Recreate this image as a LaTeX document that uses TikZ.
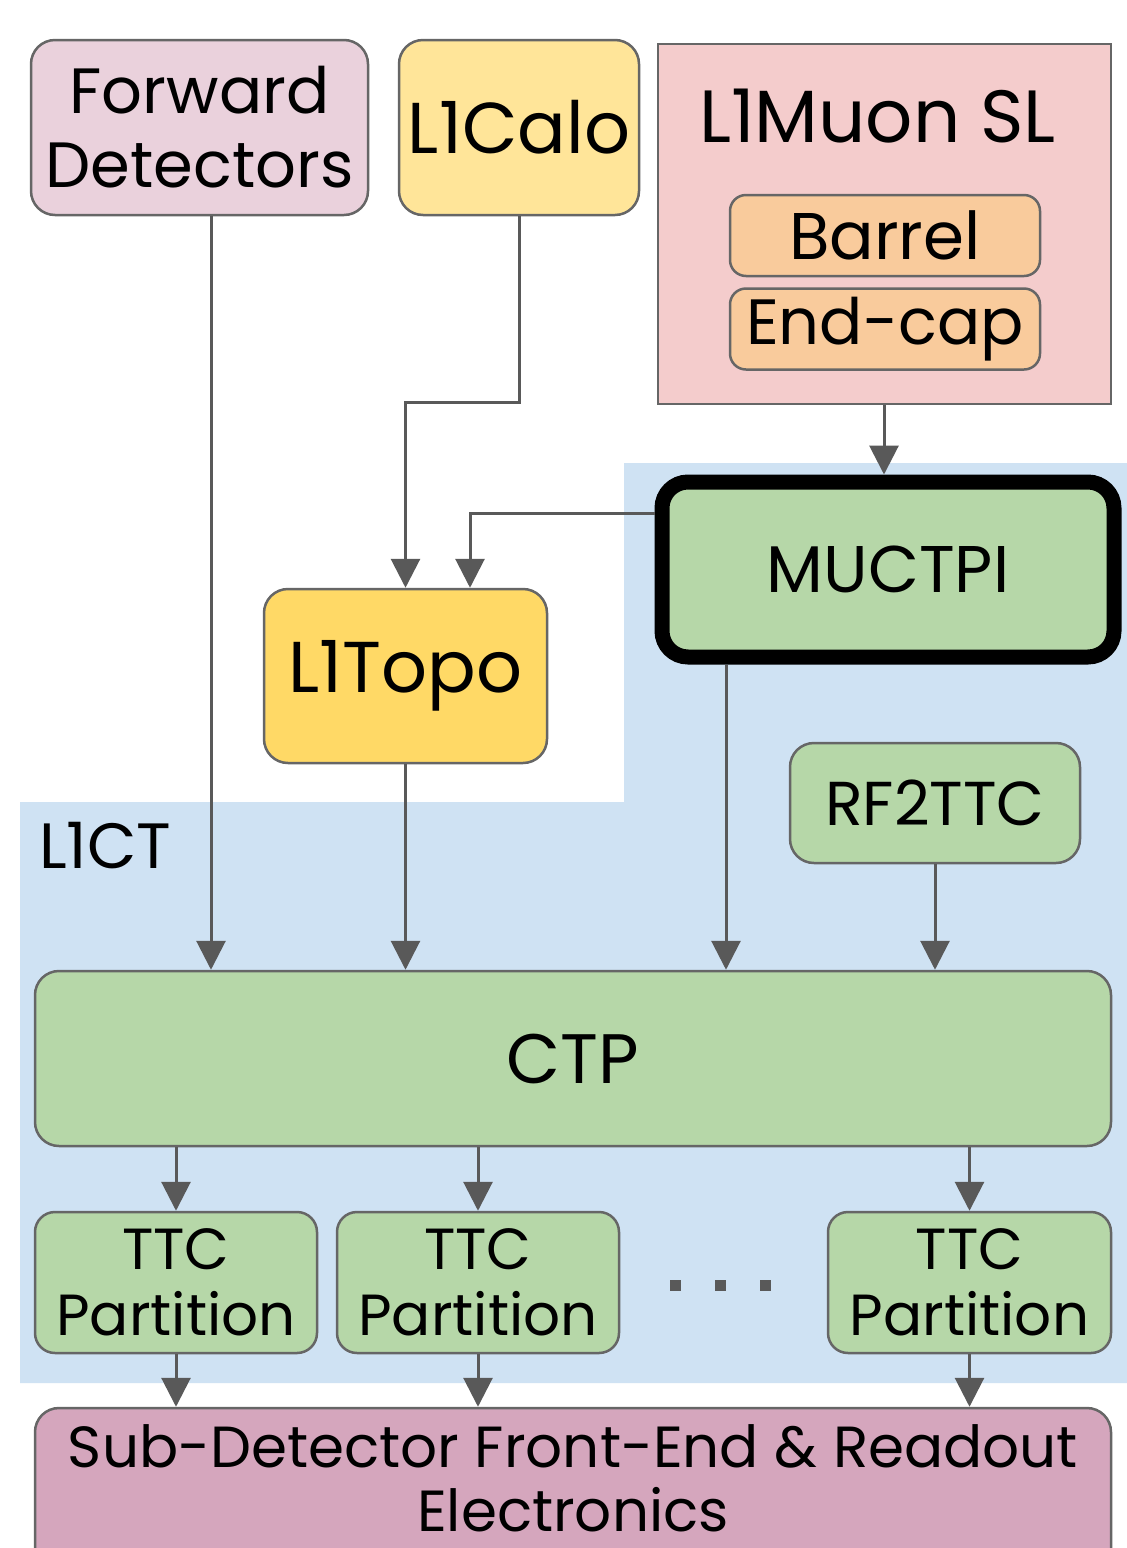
\documentclass[tikz,border=0pt]{standalone}
\usepackage{fontspec}
\setmainfont{Poppins}
\usetikzlibrary{arrows.meta,calc}
\definecolor{bluebg}{HTML}{CFE2F3}
\definecolor{fdpink}{HTML}{EAD1DC}
\definecolor{caloyel}{HTML}{FFE599}
\definecolor{topoyel}{HTML}{FFD966}
\definecolor{muonred}{HTML}{F4CCCC}
\definecolor{orng}{HTML}{F9CB9C}
\definecolor{grn}{HTML}{B6D7A8}
\definecolor{subpink}{HTML}{D5A6BD}
\definecolor{boxgray}{HTML}{666666}
\definecolor{arrgray}{HTML}{595959}
\begin{document}
\begin{tikzpicture}[x=0.5pt,y=-0.5pt,
  box/.style={draw=boxgray, line width=1.25pt, rounded corners=12pt, align=center, inner sep=0pt, text=black},
  arr/.style={draw=arrgray, line width=1.5pt, -{Triangle[width=14.5pt,length=14.5pt]}}]
\useasboundingbox (0,0) rectangle (1127,1548);
\clip (0,0) rectangle (1127,1548);
\fill[white] (0,0) rectangle (1127,1548);
% L1CT background
\fill[bluebg] (20,802) -- (624,802) -- (624,463) -- (1127,463) -- (1127,1383) -- (20,1383) -- cycle;
\node[anchor=base west, font=\fontsize{32pt}{36pt}\selectfont] (l1ct) at (32,868) {L1CT};
% top row
\node[box, fill=fdpink, minimum width=168.5pt, minimum height=87.5pt, font=\fontsize{32pt}{37pt}\selectfont] (fd) at (199.5,127.5) {Forward\\Detectors};
\node[box, fill=caloyel, minimum width=120pt, minimum height=87.5pt, font=\fontsize{36pt}{40pt}\selectfont] (calo) at (519,127.5) {L1Calo};
\node[draw=boxgray, line width=1.25pt, fill=muonred, minimum width=226.5pt, minimum height=180pt, inner sep=0pt] (muon) at (884.5,224) {};
\node[anchor=base, font=\fontsize{37pt}{40pt}\selectfont] (muontitle) at (877.5,142) {L1Muon SL};
\node[box, fill=orng, rounded corners=8pt, minimum width=155pt, minimum height=40.5pt, font=\fontsize{33pt}{38pt}\selectfont] (barrel) at (885,235.5) {Barrel};
\node[box, fill=orng, rounded corners=8pt, minimum width=155pt, minimum height=40.5pt, font=\fontsize{32pt}{38pt}\selectfont] (endcap) at (885,329) {End-cap};
% middle
\node[box, draw=black, line width=7.5pt, rounded corners=13pt, fill=grn, minimum width=226pt, minimum height=87.5pt, font=\fontsize{33pt}{38pt}\selectfont] (muctpi) at (888,569.5) {MUCTPI};
\node[box, fill=topoyel, minimum width=141.5pt, minimum height=87pt, font=\fontsize{36pt}{40pt}\selectfont] (topo) at (405.5,676) {L1Topo};
\node[box, fill=grn, minimum width=145pt, minimum height=60pt, font=\fontsize{31pt}{37pt}\selectfont] (rf) at (935,803) {RF2TTC};
\node[box, fill=grn, minimum width=538pt, minimum height=87.5pt, font=\fontsize{35pt}{40pt}\selectfont] (ctp) at (573,1058.5) {CTP};
% partitions
\node[box, fill=grn, rounded corners=10pt, minimum width=141pt, minimum height=70.5pt, font=\fontsize{29pt}{33pt}\selectfont] (t1) at (176,1282.5) {TTC\\Partition};
\node[box, fill=grn, rounded corners=10pt, minimum width=141pt, minimum height=70.5pt, font=\fontsize{29pt}{33pt}\selectfont] (t2) at (478,1282.5) {TTC\\Partition};
\node[box, fill=grn, rounded corners=10pt, minimum width=141.5pt, minimum height=70.5pt, font=\fontsize{29pt}{33pt}\selectfont] (t3) at (969.5,1282.5) {TTC\\Partition};
\foreach \dx in {675,720,765} \fill[arrgray] (\dx-5.5,1279.5) rectangle (\dx+5.5,1290.5);
% sub-detector
\node[box, fill=subpink, minimum width=538pt, minimum height=90pt] (sub) at (573,1498) {};
\node[anchor=base, inner sep=0pt, font=\fontsize{29pt}{33pt}\selectfont] (subl1) at (573,1467) {Sub-Detector Front-End \& Readout};
\node[anchor=base, inner sep=0pt, font=\fontsize{29pt}{33pt}\selectfont] (subl2) at (573,1531) {Electronics};
% connectors
\coordinate (xfd) at (211,0);
\coordinate (c1) at (405.5,402);
\coordinate (m1) at (600,513);
\coordinate (xm) at (470,0);
\coordinate (xmc) at (726,0);
\coordinate (xmu) at (884,0);
\draw[arr] (xfd |- fd.south) -- (xfd |- ctp.north);
\draw[arr] (calo.south) |- (c1) -- (topo.north);
\draw[arr] (xmu |- muon.south) -- (xmu |- muctpi.north);
\draw[arr] (muctpi.west |- m1) -| (xm |- topo.north);
\draw[arr] (topo.south) -- (topo.south |- ctp.north);
\draw[arr] (xmc |- muctpi.south) -- (xmc |- ctp.north);
\draw[arr] (rf.south) -- (rf.south |- ctp.north);
\foreach \t in {t1,t2,t3} {
  \draw[arr] (ctp.south -| \t.north) -- (\t.north);
  \draw[arr] (\t.south) -- (\t.south |- sub.north);
}
\end{tikzpicture}
\end{document}
